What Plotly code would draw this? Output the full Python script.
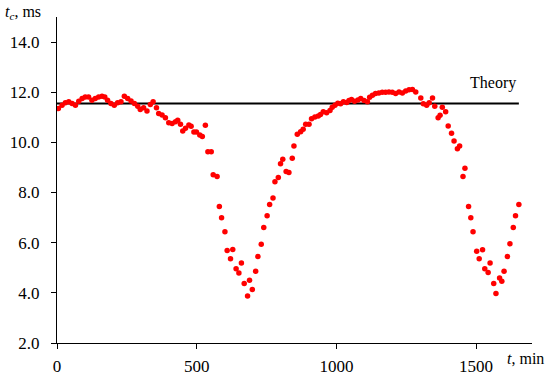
import plotly.graph_objects as go

t_min = [5, 18, 30, 42, 54, 66, 78, 90, 101, 113, 125, 137, 149, 161, 171, 181, 193, 205, 217, 229,
         241, 253, 265, 277, 289, 298, 310, 322, 334, 344, 356, 364, 376, 388, 400, 412, 424, 432, 442, 450,
         460, 472, 480, 490, 499, 511, 520, 531, 540, 552, 559, 573, 581, 589, 601, 609, 621, 629, 641, 651,
         660, 670, 682, 689, 699, 711, 719, 731, 740, 752, 761, 773, 780, 792, 800, 808, 820, 830, 842, 848,
         860, 872, 881, 890, 902, 911, 923, 935, 943, 953, 965, 977, 985, 995, 1005, 1015, 1025, 1037, 1045, 1054,
         1065, 1077, 1087, 1099, 1111, 1119, 1129, 1140, 1152, 1164, 1176, 1188, 1200, 1212, 1224, 1236, 1248, 1260, 1272, 1284,
         1302, 1311, 1323, 1332, 1344, 1352, 1364, 1371, 1379, 1391, 1400, 1412, 1421, 1433, 1441, 1453, 1460, 1473, 1481, 1489,
         1502, 1511, 1523, 1531, 1543, 1550, 1563, 1571, 1584, 1592, 1600, 1612, 1621, 1633, 1641, 1653]

tc_ms = [11.35, 11.48, 11.58, 11.62, 11.55, 11.48, 11.64, 11.75, 11.81, 11.81, 11.68, 11.75, 11.81, 11.84, 11.81, 11.68, 11.55, 11.48, 11.58, 11.62,
         11.84, 11.75, 11.65, 11.55, 11.44, 11.31, 11.38, 11.25, 11.51, 11.62, 11.38, 11.15, 11.09, 10.98, 10.78, 10.75, 10.82, 10.88, 10.72, 10.45,
         10.56, 10.69, 10.64, 10.41, 10.41, 10.29, 10.23, 10.68, 9.63, 9.63, 8.71, 8.64, 7.44, 6.99, 6.44, 5.69, 5.36, 5.73, 4.96, 4.79,
         5.19, 4.37, 3.87, 4.50, 4.13, 4.86, 5.45, 5.94, 6.61, 7.07, 7.52, 7.78, 8.43, 8.60, 9.15, 9.33, 8.84, 8.80, 9.37, 9.86,
         10.32, 10.42, 10.52, 10.72, 10.72, 10.94, 11.01, 11.05, 11.11, 11.22, 11.18, 11.27, 11.40, 11.48, 11.56, 11.54, 11.62, 11.59, 11.67, 11.71,
         11.64, 11.69, 11.75, 11.67, 11.62, 11.80, 11.88, 11.95, 11.97, 12.00, 12.00, 12.01, 12.00, 11.95, 12.01, 11.97, 12.05, 12.10, 12.11, 12.01,
         11.77, 11.54, 11.48, 11.58, 11.77, 11.44, 10.98, 11.08, 11.40, 11.22, 10.65, 10.36, 10.06, 9.75, 9.86, 8.64, 8.97, 7.44, 6.99, 6.44,
         5.66, 5.36, 5.72, 4.96, 4.81, 5.19, 4.37, 3.97, 4.59, 4.46, 4.86, 5.45, 5.96, 6.61, 7.07, 7.52]

theory_t = [0, 1653]
theory_tc = [11.55, 11.55]

x_ticks = [0, 500, 1000, 1500]
y_ticks = [2, 4, 6, 8, 10, 12, 14]

FONT = "Liberation Serif"
L, R, T, B = 57, 18, 17, 35
W, H = 550, 378
pw, ph = W - L - R, H - T - B


def px(x):
    return (x - L) / pw


def py(y):
    return 1 - (y - T) / ph


fig = go.Figure()
fig.add_trace(go.Scatter(x=theory_t, y=theory_tc, mode="lines",
                         line=dict(color="black", width=2), showlegend=False, hoverinfo="skip"))
fig.add_trace(go.Scatter(x=t_min, y=tc_ms, mode="markers",
                         marker=dict(color="#ff0000", size=5.5, line=dict(width=0)), showlegend=False))

axis_common = dict(showgrid=False, zeroline=False, automargin=False,
                   showline=True, linecolor="black", linewidth=1.3,
                   ticks="outside", ticklen=5, tickcolor="black", tickwidth=1.3,
                   tickfont=dict(family=FONT, size=17, color="black"))

fig.update_layout(
    width=W, height=H,
    margin=dict(l=L, r=R, t=T, b=B),
    paper_bgcolor="white", plot_bgcolor="white",
    font=dict(family=FONT, size=16, color="black"),
    xaxis=dict(range=[0, 1700], tickvals=x_ticks, ticklabelstandoff=2, **axis_common),
    yaxis=dict(range=[2, 15], tickvals=y_ticks, tickformat=".1f", ticklabelstandoff=8, **axis_common),
    annotations=[
        dict(text="<i>t<sub>c</sub></i>, ms", x=px(3), y=py(1), xref="paper", yref="paper",
             xanchor="left", yanchor="top", showarrow=False, font=dict(family=FONT, size=16)),
        dict(text="<i>t</i>, min", x=px(546), y=py(358), xref="paper", yref="paper",
             xanchor="right", yanchor="middle", showarrow=False, font=dict(family=FONT, size=16)),
        dict(text="Theory", x=1560, y=12.38, xref="x", yref="y",
             xanchor="center", yanchor="middle", showarrow=False, font=dict(family=FONT, size=16)),
    ],
)

fig.write_html("out.html", config={"displayModeBar": False},
               post_script="document.body.style.margin='0';document.body.style.overflow='hidden';")
